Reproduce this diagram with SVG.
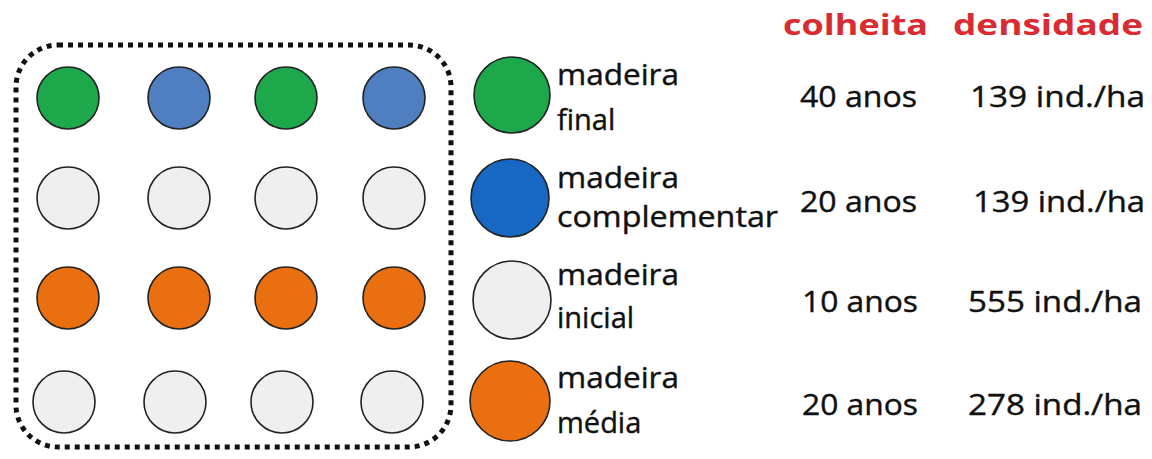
<svg xmlns="http://www.w3.org/2000/svg" width="1152" height="459" viewBox="0 0 1152 459">
<style>
.c{stroke:#222;stroke-width:1.6}
.g{fill:#1ea84c}.b{fill:#4f7fc0}.w{fill:#efefef}.o{fill:#ea6f10}.bl{fill:#1668c2}
text{font-family:"Open Sans","Liberation Sans",sans-serif;font-size:29px;fill:#111;stroke:#111;stroke-width:0.4}
.h{fill:#d92b32;stroke:none;font-weight:bold}
</style>
<rect width="1152" height="459" fill="#fff"/>
<g id="frame">
<rect x="16" y="45" width="435" height="402" rx="42" fill="none" stroke="#111" stroke-width="5" stroke-dasharray="5 5"/>
</g>
<g id="grid">
<circle class="c g" cx="68" cy="98" r="31"/><circle class="c b" cx="179" cy="98" r="31"/><circle class="c g" cx="286" cy="98" r="31"/><circle class="c b" cx="394" cy="98" r="31"/>
<circle class="c w" cx="68" cy="198" r="31"/><circle class="c w" cx="179" cy="198" r="31"/><circle class="c w" cx="286" cy="198" r="31"/><circle class="c w" cx="394" cy="198" r="31"/>
<circle class="c o" cx="68" cy="298" r="31"/><circle class="c o" cx="179" cy="298" r="31"/><circle class="c o" cx="286" cy="298" r="31"/><circle class="c o" cx="394" cy="298" r="31"/>
<circle class="c w" cx="64" cy="402" r="31"/><circle class="c w" cx="175" cy="402" r="31"/><circle class="c w" cx="282" cy="402" r="31"/><circle class="c w" cx="392" cy="402" r="31"/>
</g>
<g id="headers">
<text class="h" x="783" y="35" textLength="145" lengthAdjust="spacingAndGlyphs">colheita</text>
<text class="h" x="953" y="35" textLength="190" lengthAdjust="spacingAndGlyphs">densidade</text>
</g>
<g id="final">
<circle class="c g" cx="512" cy="95" r="38"/>
<text x="557" y="85" textLength="122" lengthAdjust="spacingAndGlyphs">madeira</text>
<text x="557" y="130">final</text>
<text x="800" y="107" textLength="117" lengthAdjust="spacingAndGlyphs">40 anos</text>
<text x="970" y="107" textLength="175" lengthAdjust="spacingAndGlyphs">139 ind./ha</text>
</g>
<g id="complementar">
<circle class="c bl" cx="510" cy="198" r="39"/>
<text x="557" y="188" textLength="122" lengthAdjust="spacingAndGlyphs">madeira</text>
<text x="557" y="227" textLength="221" lengthAdjust="spacingAndGlyphs">complementar</text>
<text x="800" y="212" textLength="117" lengthAdjust="spacingAndGlyphs">20 anos</text>
<text x="973" y="212" textLength="172" lengthAdjust="spacingAndGlyphs">139 ind./ha</text>
</g>
<g id="inicial">
<circle class="c w" cx="512" cy="300" r="39"/>
<text x="557" y="285" textLength="122" lengthAdjust="spacingAndGlyphs">madeira</text>
<text x="557" y="328">inicial</text>
<text x="802" y="312" textLength="116" lengthAdjust="spacingAndGlyphs">10 anos</text>
<text x="968" y="312" textLength="174" lengthAdjust="spacingAndGlyphs">555 ind./ha</text>
</g>
<g id="media">
<circle class="c o" cx="510" cy="401" r="40"/>
<text x="557" y="388" textLength="122" lengthAdjust="spacingAndGlyphs">madeira</text>
<text x="557" y="433">média</text>
<text x="802" y="415" textLength="116" lengthAdjust="spacingAndGlyphs">20 anos</text>
<text x="968" y="415" textLength="174" lengthAdjust="spacingAndGlyphs">278 ind./ha</text>
</g>
</svg>
